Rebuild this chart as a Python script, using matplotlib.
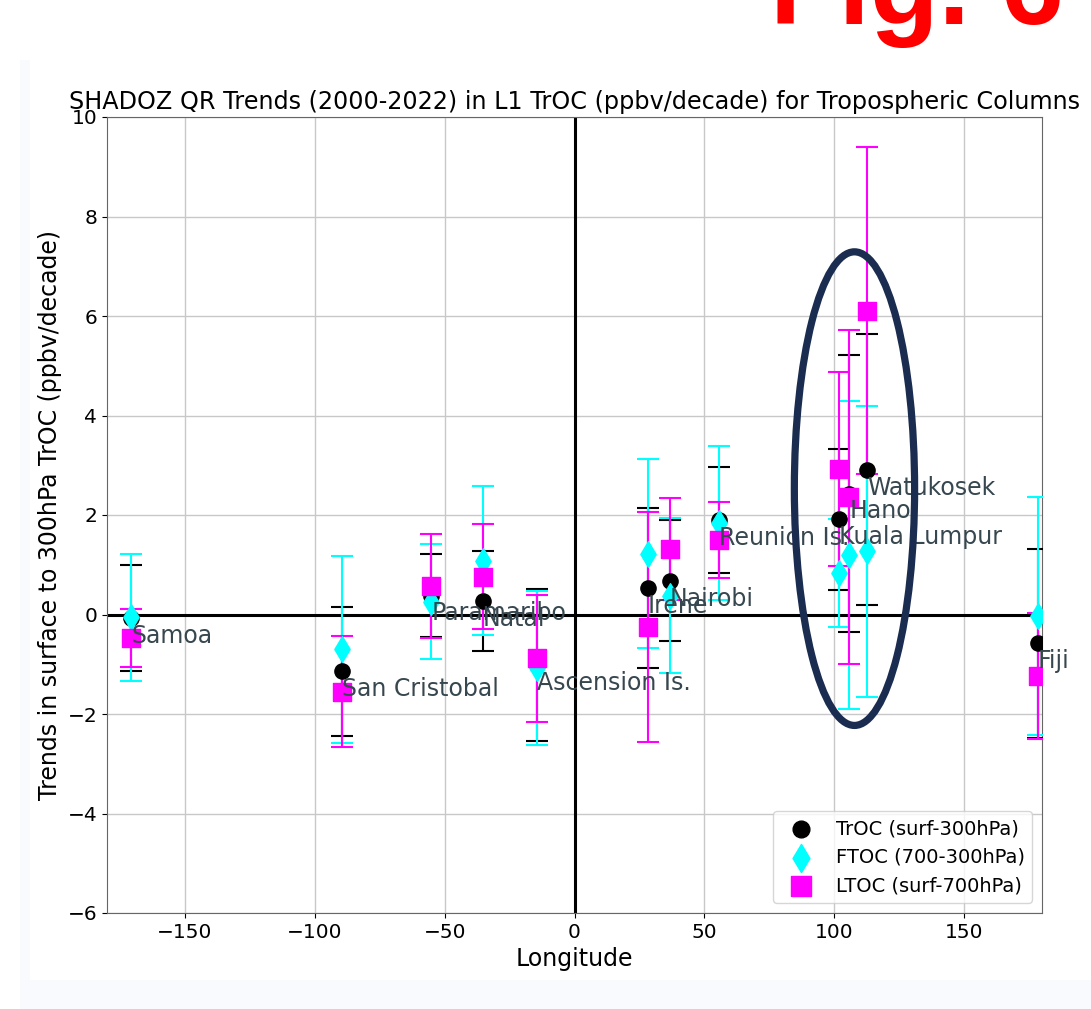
import matplotlib
matplotlib.use("Agg")
import matplotlib.pyplot as plt
from matplotlib.patches import Ellipse, Rectangle

# === station data ===
stations = ["Samoa", "San Cristobal", "Paramaribo", "Natal", "Ascension Is.", "Irene",
            "Nairobi", "Reunion Is.", "Kuala Lumpur", "Hanoi", "Watukosek", "Fiji"]
lon = [-170.6, -89.6, -55.2, -35.4, -14.4, 28.2, 36.8, 55.5, 101.7, 105.8, 112.6, 178.4]

troc = [-0.07, -1.14, 0.38, 0.27, -1.02, 0.54, 0.68, 1.90, 1.91, 2.43, 2.91, -0.58]
troc_err = [1.06, 1.30, 0.83, 1.01, 1.53, 1.61, 1.21, 1.06, 1.41, 2.79, 2.72, 1.90]

ftoc = [-0.06, -0.70, 0.26, 1.08, -1.08, 1.22, 0.38, 1.84, 0.83, 1.20, 1.27, -0.03]
ftoc_err = [1.27, 1.88, 1.15, 1.50, 1.55, 1.90, 1.55, 1.55, 1.08, 3.09, 2.92, 2.40]

ltoc = [-0.47, -1.55, 0.57, 0.76, -0.88, -0.25, 1.32, 1.50, 2.92, 2.36, 6.11, -1.23]
ltoc_err = [0.59, 1.12, 1.04, 1.05, 1.28, 2.31, 1.03, 0.77, 1.95, 3.35, 3.29, 1.27]

# highlighted region (SE Asia stations)
circ_center = (107.8, 2.53)
circ_w, circ_h = 46.3, 9.52

fig = plt.figure(figsize=(10.91, 10.09), dpi=100)
fig.patch.set_facecolor("white")

# light slide background strips around the pasted chart
fig.patches.append(Rectangle((20 / 1091, 0), 1 - 20 / 1091, 29 / 1009, transform=fig.transFigure,
                             facecolor="#f8fafd", edgecolor="none", zorder=0))
fig.patches.append(Rectangle((20 / 1091, 0), 10 / 1091, 1 - 60 / 1009, transform=fig.transFigure,
                             facecolor="#f8fafd", edgecolor="none", zorder=0))

ax = fig.add_axes([107 / 1091, 1 - 913 / 1009, 935 / 1091, 796 / 1009])

ax.errorbar(lon, troc, yerr=troc_err, fmt="none", ecolor="black", elinewidth=1.5,
            capsize=8, capthick=1.5, zorder=3)
ax.errorbar(lon, ftoc, yerr=ftoc_err, fmt="none", ecolor="cyan", elinewidth=1.5,
            capsize=8, capthick=1.5, zorder=3)
ax.errorbar(lon, ltoc, yerr=ltoc_err, fmt="none", ecolor="magenta", elinewidth=1.5,
            capsize=8, capthick=1.5, zorder=3)

ax.scatter(lon, troc, s=120, marker="o", color="black", label="TrOC (surf-300hPa)", zorder=4)
ax.scatter(lon, ftoc, s=170, marker="d", color="cyan", label="FTOC (700-300hPa)", zorder=4)
ax.scatter(lon, ltoc, s=160, marker="s", color="magenta", label="LTOC (surf-700hPa)", zorder=4)

for name, x, y in zip(stations, lon, troc):
    ax.text(x, y - 0.5, name, fontsize=17, color="#37474f", zorder=5)

ax.axhline(0, color="black", linewidth=2.2, zorder=2)
ax.axvline(0, color="black", linewidth=2.2, zorder=2)

ax.add_patch(Ellipse(circ_center, circ_w, circ_h, fill=False, edgecolor="#1a2c50",
                     linewidth=5.2, zorder=10, clip_on=False))

ax.set_xlim(-180, 180)
ax.set_ylim(-6, 10)
ax.grid(True, color="#c8c8c8", linewidth=1)
ax.set_axisbelow(True)
ax.tick_params(labelsize=14.5)
for sp in ax.spines.values():
    sp.set_color("#666666")
ax.set_xlabel("Longitude", fontsize=17)
ax.set_ylabel("Trends in surface to 300hPa TrOC (ppbv/decade)", fontsize=17)
ax.set_title("SHADOZ QR Trends (2000-2022) in L1 TrOC (ppbv/decade) for Tropospheric Columns",
             fontsize=17.2)
ax.legend(loc="lower right", fontsize=14, markerscale=1.1)

fig.text(770 / 1091, 1 - 24 / 1009, "Fig. 6", color="red", fontsize=81, fontweight="bold",
         family="Liberation Sans", ha="left", va="baseline")

fig.savefig("out.png", dpi=100)
